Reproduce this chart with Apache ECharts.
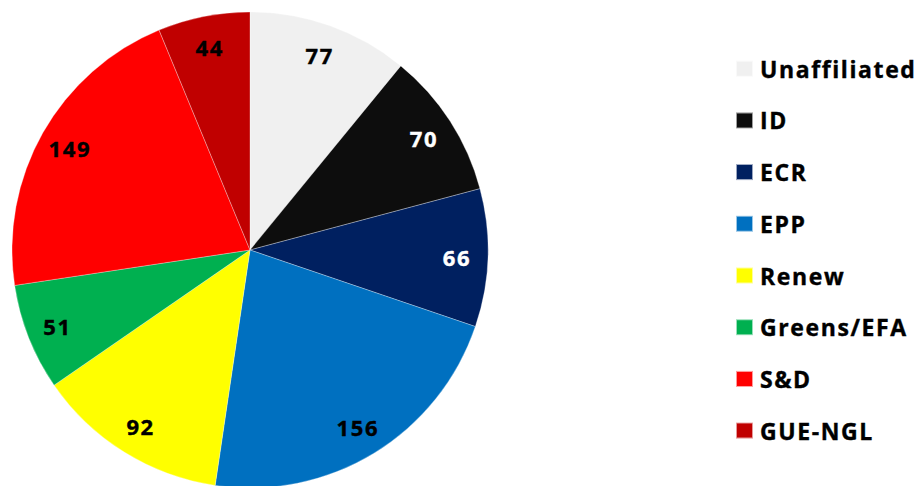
<!DOCTYPE html>
<html>
<head>
<meta charset="utf-8">
<script src="https://cdn.jsdelivr.net/npm/echarts@6/dist/echarts.min.js"></script>
<style>
  html, body { margin: 0; padding: 0; background: #fff; }
  #chart { width: 917px; height: 486px; }
  /* the reference text is spaced out a bit wider than the plain font */
  #chart text { letter-spacing: 1.6px; }
</style>
</head>
<body>
<div id="chart"></div>
<script>
// groups and seats
var groups = ['Unaffiliated', 'ID', 'ECR', 'EPP', 'Renew', 'Greens/EFA', 'S&D', 'GUE-NGL'];
var seats = [77, 70, 66, 156, 92, 51, 149, 44];
var colors = ['#F0F0F0', '#0D0D0D', '#002060', '#0070C0', '#FFFF00', '#00B050', '#FF0000', '#C00000'];
var labelColors = ['#000', '#fff', '#fff', '#000', '#000', '#000', '#000', '#000'];

var font = '"Open Sans", "Noto Sans", sans-serif';
var center = [250, 250];
var R = 238;

var chart = echarts.init(document.getElementById('chart'), null, { renderer: 'svg' });

var slices = groups.map(function (g, i) {
    return { name: g, value: seats[i], itemStyle: { color: colors[i] } };
});
// second ring only carries the labels (placed near the outer edge)
var labelSlices = groups.map(function (g, i) {
    return {
        name: g, value: seats[i],
        itemStyle: { color: 'rgba(0,0,0,0)' },
        label: { color: labelColors[i], textBorderColor: labelColors[i] }
    };
});

chart.setOption({
    animation: false,
    legend: {
        orient: 'vertical',
        left: 735,
        top: 57,
        padding: 0,
        itemWidth: 17,
        itemHeight: 16,
        itemGap: 28.3,
        icon: 'rect',
        textStyle: {
            fontFamily: font, fontWeight: 'bold', fontSize: 23, color: '#000',
            textBorderColor: '#000', textBorderWidth: 0.4,
            padding: [0, 0, 0, 2]
        },
        data: groups
    },
    series: [
        {
            type: 'pie',
            center: center,
            radius: [0, R],
            startAngle: 90,
            clockwise: true,
            label: { show: false },
            labelLine: { show: false },
            itemStyle: { borderColor: 'rgba(255,255,255,0.6)', borderWidth: 0.5 },
            emphasis: { disabled: true },
            data: slices
        },
        {
            type: 'pie',
            center: center,
            radius: [170, R],
            startAngle: 90,
            clockwise: true,
            silent: true,
            label: {
                show: true,
                position: 'inside',
                formatter: '{c}',
                fontFamily: font,
                fontWeight: 'bold',
                fontSize: 22,
                textBorderWidth: 0.4
            },
            labelLine: { show: false },
            emphasis: { disabled: true },
            data: labelSlices
        }
    ]
});
</script>
</body>
</html>
